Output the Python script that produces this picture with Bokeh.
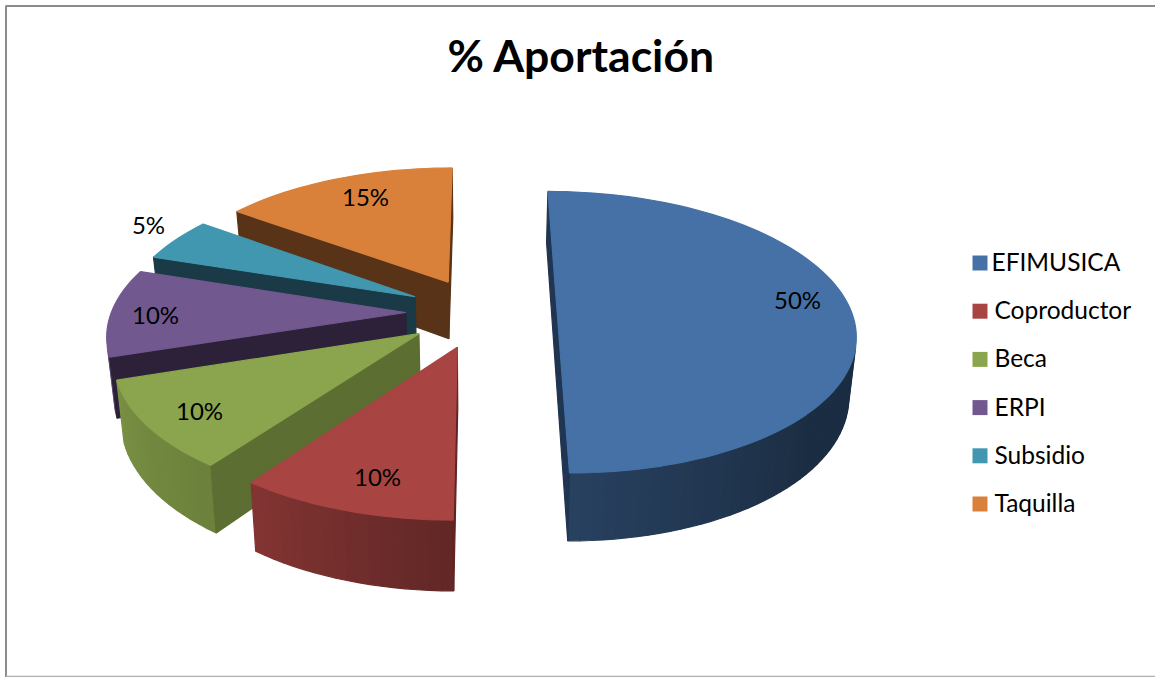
import numpy as np
from bokeh.plotting import figure
from bokeh.models import Range1d
from bokeh.core.properties import value
from bokeh.embed import file_html
from bokeh.resources import INLINE

title = "% Aportación"
categories = ["EFIMUSICA", "Coproductor", "Beca", "ERPI", "Subsidio", "Taquilla"]
shares = [50, 10, 10, 10, 5, 15]
top_colors = ["#4571A6", "#A84442", "#8AA54D", "#71588F", "#4197AF", "#D9813B"]
cut_colors = ["#1F3551", "#5F2423", "#5C6E32", "#2C2138", "#1A3A47", "#583317"]
draw_order = [5, 4, 3, 2, 1, 0]

# projection settings, in screen pixels
CX, CY = 481.0, 312.0
RX, RY = 294.5, 138.0
EX, EY = 75.7, 35.2
K = 0.14
DEPTH = 58.5
BOTTOM_SCALE = 0.98
shade_angles = [90, 130, 180, 216, 252, 288, 360]
shade_values = [0.40, 0.40, 0.58, 0.78, 0.88, 0.55, 0.55]


def project(mx, mz, bottom=False):
    s = 1.0 / (1.0 + K * mz)
    x = mx * s
    y = -RY * mz * s
    if bottom:
        return CX + BOTTOM_SCALE * x, CY + y + DEPTH * s
    return CX + x, CY + y


def scale_hex(c, f):
    r, g, b = (int(c[i:i + 2], 16) for i in (1, 3, 5))
    return "#%02x%02x%02x" % (int(r * f), int(g * f), int(b * f))


def area(px, py):
    return 0.5 * sum(px[i] * py[(i + 1) % len(px)] - px[(i + 1) % len(px)] * py[i] for i in range(len(px)))


p = figure(width=1155, height=677, x_range=Range1d(0, 1155), y_range=Range1d(677, 0),
           output_backend="svg", toolbar_location=None, min_border=0, outline_line_color=None,
           background_fill_color="white", border_fill_color="white")
p.axis.visible = False
p.grid.visible = False
p.xaxis.visible = False
p.yaxis.visible = False

# chart frame
p.line([5.5, 5.5, 1155], [677, 5.5, 5.5], line_color="#8c8c8c", line_width=2)
p.line([5.5, 1155], [676, 676], line_color="#b0b0b0", line_width=1.5)

total = sum(shares)
edges = np.concatenate([[0], np.cumsum(shares)]) / total * 360.0

xs, ys, colors = [], [], []
for i in draw_order:
    a0, a1 = edges[i], edges[i + 1]
    mid = np.radians((a0 + a1) / 2)
    ox, oz = EX * np.sin(mid), EY / RY * np.cos(mid)
    n = max(4, int((a1 - a0) * 0.5))
    th = np.radians(np.linspace(a0, a1, n + 1))
    mx = ox + RX * np.sin(th)
    mz = oz + np.cos(th)
    tx, ty = project(mx, mz)
    bx, by = project(mx, mz, True)
    ax, ay = project(ox, oz)
    abx, aby = project(ox, oz, True)
    # rim facets, with a gradient
    for j in range(n):
        qx = [tx[j], tx[j + 1], bx[j + 1], bx[j]]
        qy = [ty[j], ty[j + 1], by[j + 1], by[j]]
        if area(qx, qy) < 0:
            f = np.interp(np.degrees((th[j] + th[j + 1]) / 2), shade_angles, shade_values)
            xs.append(qx); ys.append(qy); colors.append(scale_hex(top_colors[i], f))
    # cut faces
    for e in (0, n):
        qx = [ax, tx[e], bx[e], abx]
        qy = [ay, ty[e], by[e], aby]
        s = area(qx, qy)
        if (e == 0 and s < 0) or (e == n and s > 0):
            xs.append(qx); ys.append(qy); colors.append(cut_colors[i])
    # top face
    xs.append([ax] + list(tx)); ys.append([ay] + list(ty)); colors.append(top_colors[i])

p.patches(xs, ys, fill_color=colors, line_color=colors, line_width=1.2)

# data labels
label_x = [797, 377, 199, 155, 148, 365]
label_y = [299, 476, 410, 314, 224, 196]
p.text(label_x, label_y, text=[f"{v}%" for v in shares], text_font=value("Lato"), text_font_size="24px",
       text_align="center", text_baseline="middle", text_color="#000000")

# title
p.text([581], [54], text=[title], text_font=value("Lato"), text_font_size="44.5px", text_font_style="bold",
       text_align="center", text_baseline="middle", text_color="#000000")

# legend
leg_y = [262.5 + 48.2 * i for i in range(len(categories))]
p.rect([979.5] * 6, leg_y, width=15, height=15, fill_color=top_colors, line_color=None)
leg_tx = [991, 994, 994, 994, 994, 994]
p.text(leg_tx, [v - 1.5 for v in leg_y], text=categories, text_font=value("Lato"), text_font_size="24.5px",
       text_align="left", text_baseline="middle", text_color="#000000")

open("out.html", "w").write(file_html(p, INLINE))
